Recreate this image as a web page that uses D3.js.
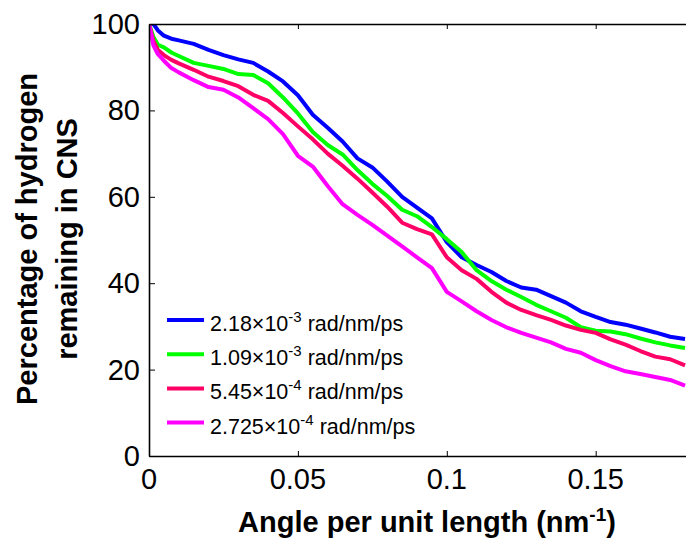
<!DOCTYPE html>
<html>
<head>
<meta charset="utf-8">
<script src="https://cdn.jsdelivr.net/npm/d3@7"></script>
<style>
  html, body { margin: 0; padding: 0; background: #fff; overflow: hidden; }
  svg { display: block; }
  text { font-family: Arial, "Liberation Sans", sans-serif; fill: #000; }
</style>
</head>
<body>
<div id="chart"></div>
<script>
// Angle per unit length (nm^-1)
const angle = [0, 0.0015, 0.003, 0.005, 0.0075, 0.01,
  0.015, 0.02, 0.025, 0.03, 0.035, 0.04, 0.045, 0.05, 0.055, 0.06, 0.065, 0.07,
  0.075, 0.08, 0.085, 0.09, 0.095, 0.1, 0.105, 0.11, 0.115, 0.12, 0.125, 0.13,
  0.135, 0.14, 0.145, 0.15, 0.155, 0.16, 0.165, 0.17, 0.175, 0.18];

// Percentage of hydrogen remaining, one array per rate
const rate218e3 = [100, 100, 98.5, 97.3, 96.6, 96.2,
  95.4, 94.0, 92.8, 91.8, 91.0, 89.0, 86.7, 83.5, 79.0, 76.0, 72.8, 68.9,
  66.8, 63.5, 60.0, 57.5, 55.0, 49.5, 46.0, 44.2, 42.6, 40.5, 39.0, 38.5,
  37.0, 35.5, 33.5, 32.2, 31.0, 30.4, 29.5, 28.6, 27.6, 27.1];
const rate109e3 = [100, 97.0, 95.2, 94.6, 93.4, 92.6,
  91.0, 90.3, 89.6, 88.4, 88.2, 86.3, 83.0, 79.3, 75.0, 72.0, 69.8, 66.2,
  63.0, 60.2, 57.0, 55.5, 53.0, 50.2, 47.2, 43.0, 40.5, 38.5, 36.8, 35.0,
  33.5, 32.0, 29.8, 29.0, 28.8, 28.2, 27.2, 26.3, 25.6, 25.0];
const rate545e4 = [100, 96.0, 94.0, 92.8, 91.7, 90.9,
  89.4, 87.8, 86.8, 85.6, 83.6, 82.2, 79.4, 76.3, 73.3, 70.0, 67.2, 64.2,
  61.0, 57.7, 54.0, 52.5, 51.3, 46.0, 43.0, 41.0, 38.0, 35.5, 33.8, 32.6,
  31.5, 30.2, 29.2, 28.5, 27.0, 25.8, 24.3, 23.0, 22.4, 21.0];
const rate2725e4 = [100, 95.0, 93.0, 91.5, 89.8, 88.8,
  87.0, 85.4, 84.8, 83.0, 80.5, 78.0, 74.5, 69.5, 67.0, 62.5, 58.3, 55.8,
  53.5, 51.0, 48.5, 46.0, 43.5, 38.0, 35.8, 33.5, 31.5, 29.8, 28.5, 27.4,
  26.3, 24.8, 23.9, 22.2, 20.8, 19.6, 19.0, 18.3, 17.6, 16.3];

const seriesValues = [rate218e3, rate109e3, rate545e4, rate2725e4];
const seriesColors = ['#0000ff', '#00ff00', '#ff0066', '#ff00ff'];
const legendMantissa = ['2.18', '1.09', '5.45', '2.725'];
const legendExponent = ['-3', '-3', '-4', '-4'];

const xTicks = [0, 0.05, 0.1, 0.15];
const xTickLabels = ['0', '0.05', '0.1', '0.15'];
const yTicks = [0, 20, 40, 60, 80, 100];

const width = 686;
const height = 540;
const margin = { top: 24, left: 149, bottom: 84 };
const innerHeight = height - margin.top - margin.bottom;

const svg = d3.select('#chart')
  .append('svg')
    .attr('width', width)
    .attr('height', height);

// Scales (the axes box runs past the right edge of the picture)
const x = d3.scaleLinear()
  .domain([0, 0.185])
  .range([margin.left, margin.left + 0.185 * 2978]);
const y = d3.scaleLinear()
  .domain([0, 100])
  .range([margin.top + innerHeight, margin.top]);

svg.append('clipPath')
    .attr('id', 'plot-clip')
  .append('rect')
    .attr('x', margin.left)
    .attr('y', margin.top)
    .attr('width', width - margin.left)
    .attr('height', innerHeight);

// Lines
const line = d3.line()
  .x((d, i) => x(angle[i]))
  .y((d) => y(d));

svg.append('g')
    .attr('clip-path', 'url(#plot-clip)')
  .selectAll('path')
  .data(seriesValues)
  .join('path')
    .attr('fill', 'none')
    .attr('stroke', (d, i) => seriesColors[i])
    .attr('stroke-width', 4)
    .attr('stroke-linejoin', 'round')
    .attr('d', line);

// Axes frame: ticks only, pointing inwards
const styleAxis = (g) => {
  g.select('.domain').attr('stroke-width', 1.6);
  g.selectAll('text').remove();
};
svg.append('g')
  .attr('transform', 'translate(0,' + y(0) + ')')
  .call(d3.axisBottom(x).tickValues(xTicks).tickSizeInner(-5).tickSizeOuter(0))
  .call(styleAxis);
svg.append('g')
  .attr('transform', 'translate(0,' + y(100) + ')')
  .call(d3.axisTop(x).tickValues(xTicks).tickSizeInner(-5).tickSizeOuter(0))
  .call(styleAxis);
svg.append('g')
  .attr('transform', 'translate(' + margin.left + ',0)')
  .call(d3.axisLeft(y).tickValues(yTicks).tickSizeInner(-6).tickSizeOuter(0))
  .call(styleAxis);

// Tick labels
svg.append('g')
  .selectAll('text')
  .data(xTicks)
  .join('text')
    .attr('x', (d) => x(d))
    .attr('y', y(0) + 33)
    .attr('text-anchor', 'middle')
    .attr('font-size', 29)
    .text((d, i) => xTickLabels[i]);

svg.append('g')
  .selectAll('text')
  .data(yTicks)
  .join('text')
    .attr('x', margin.left - 9)
    .attr('y', (d) => y(d) + 10)
    .attr('text-anchor', 'end')
    .attr('font-size', 29)
    .text((d) => d);

// Writes runs of text (with superscripts) one after another, each as its own text
function writeRuns(parent, x0, y0, runs, weight) {
  let cx = x0;
  const nodes = runs.map((r) => {
    const t = parent.append('text')
      .attr('x', cx)
      .attr('y', y0 - (r.raise || 0))
      .attr('font-size', r.size)
      .attr('font-weight', weight || 'normal')
      .text(r.text);
    cx += t.node().getComputedTextLength() + (r.gap || 0);
    return t;
  });
  return { nodes, width: cx - x0 };
}

// X axis title, centred
const xTitleRuns = [
  { text: 'Angle per unit length (nm', size: 29 },
  { text: '-1', size: 19, raise: 11 },
  { text: ')', size: 29 }
];
const xTitle = svg.append('g');
const xTitleWidth = writeRuns(xTitle, 0, 532, xTitleRuns, 'bold').width;
xTitle.attr('transform', 'translate(' + (427 - xTitleWidth / 2) + ',0)');

// Y axis title, two lines
const yTitle = svg.append('text')
  .attr('transform', 'translate(0,239) rotate(-90)')
  .attr('text-anchor', 'middle')
  .attr('font-size', 29)
  .attr('font-weight', 'bold');
yTitle.append('tspan').attr('x', 0).attr('y', 37).text('Percentage of hydrogen');
yTitle.append('tspan').attr('x', 0).attr('y', 77).text('remaining in CNS');

// Legend
legendMantissa.forEach((m, i) => {
  const row = svg.append('g')
    .attr('transform', 'translate(167,' + (320 + i * 34.2) + ')');
  row.append('line')
    .attr('x1', 0)
    .attr('x2', 37)
    .attr('stroke', seriesColors[i])
    .attr('stroke-width', 4);
  writeRuns(row, 43, 11, [
    { text: m + '\u00d710', size: 21.5 },
    { text: legendExponent[i], size: 15, raise: 9, gap: 6 },
    { text: 'rad/nm/ps', size: 21.5 }
  ]);
});
</script>
</body>
</html>
